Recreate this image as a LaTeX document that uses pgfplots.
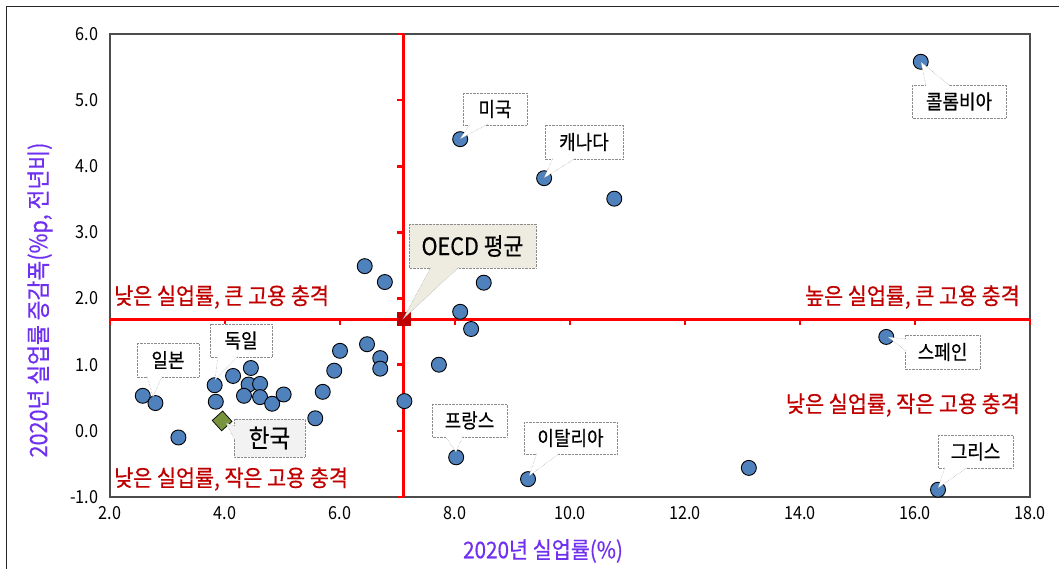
\documentclass[border=0pt]{standalone}
\usepackage{fontspec}
\usepackage{pgfplots}
\pgfplotsset{compat=1.18}
\setmainfont{Noto Sans CJK KR}[FakeStretch=0.9]
\newfontfamily\kb{Noto Sans CJK KR}[FakeStretch=0.9, FakeBold=0.5]
\definecolor{ptblue}{HTML}{4F81BD}
\definecolor{krgreen}{HTML}{77933C}
\definecolor{oecdred}{HTML}{C00000}
\definecolor{qred}{HTML}{C00000}
\definecolor{lblviolet}{HTML}{7030F0}
\definecolor{beige}{HTML}{EEECE1}
\definecolor{lgray}{HTML}{F2F2F2}
\newcommand{\calloutbox}[7]{%
  \draw[densely dotted, black!45, fill=#5] (#1,#2) rectangle (#3,#4);
  \node[font=\kb\fontsize{#6}{#6}\selectfont, inner sep=0pt] at ({(#1+#3)/2},{(#2+#4)/2}) {#7};}
\newcommand{\tail}[7]{%
  \fill[#7] (#1,#2) -- (#5,#6) -- (#3,#4) -- cycle;
  \draw[densely dotted, black!45] (#1,#2) -- (#5,#6) -- (#3,#4);}
\pgfplotstableread{
x y
2.57 0.53
2.79 0.42
3.19 -0.10
3.82 0.69
3.84 0.44
4.14 0.83
4.45 0.95
4.41 0.70
4.61 0.71
4.33 0.53
4.61 0.51
4.82 0.41
5.02 0.55
5.57 0.19
5.70 0.59
5.90 0.91
6.00 1.21
6.47 1.31
6.70 1.10
6.70 0.94
7.12 0.45
7.72 1.00
8.09 1.80
8.28 1.54
8.50 2.24
6.43 2.49
6.78 2.25
8.09 4.41
9.55 3.82
10.77 3.51
16.10 5.58
15.50 1.42
8.02 -0.40
9.27 -0.73
13.11 -0.56
16.40 -0.89
}\countries
\begin{document}
\begin{tikzpicture}[x=1pt,y=1pt]
\useasboundingbox (0,0) rectangle (1059,569);
\draw[black!85, line width=1pt] (6,0) -- (6,562) -- (1059,562);
\begin{axis}[
  at={(110pt,72pt)}, anchor=south west, scale only axis,
  width=920pt, height=463pt,
  xmin=2, xmax=18, ymin=-1, ymax=6,
  xtick={2,4,...,18}, ytick={-1,0,...,6},
  major tick length=0pt,
  axis line style={black!70, line width=1.2pt},
  tick label style={font=\fontsize{18}{20}\selectfont, black},
  /pgf/number format/fixed,
  /pgf/number format/fixed zerofill,
  /pgf/number format/precision=1,
  /pgf/number format/assume math mode=true,
  yticklabel style={xshift=-8pt},
  xticklabel style={yshift=-6pt},
  clip=false,
]
\addplot[red, line width=3pt, forget plot] coordinates {(2,1.69) (18,1.69)};
\addplot[red, line width=3pt, forget plot] coordinates {(7.1,-1) (7.1,6)};
\pgfplotsinvokeforeach{2,4,6,8,10,12,14,16,18}{
  \draw[red, line width=2.5pt] (axis cs:#1,1.69) -- ++(0pt,-6pt);
}
\pgfplotsinvokeforeach{-1,0,1,2,3,4,5,6}{
  \draw[red, line width=2.5pt] (axis cs:7.1,#1) -- ++(-6pt,0pt);
}
\addplot[only marks, mark=*, mark size=7.5pt,
  mark options={fill=ptblue, draw=black, line width=0.9pt}] table {\countries};
\addplot[only marks, mark=square*, mark size=7pt,
  mark options={fill=krgreen, draw=black, line width=0.7pt, rotate=42}] coordinates {(3.95,0.15)};
\addplot[only marks, mark=square*, mark size=6.5pt,
  mark options={fill=oecdred, draw=oecdred}] coordinates {(7.10,1.69)};
\end{axis}
\begin{scope}[shift={(0,569)}, yscale=-1]
  % quadrant texts
  \node[anchor=west, text=qred, font=\kb\fontsize{23}{23}\selectfont, inner sep=0pt] at (114,297) {낮은 실업률, 큰 고용 충격};
  \node[anchor=east, text=qred, font=\kb\fontsize{23}{23}\selectfont, inner sep=0pt] at (1020,297) {높은 실업률, 큰 고용 충격};
  \node[anchor=east, text=qred, font=\kb\fontsize{23}{23}\selectfont, inner sep=0pt] at (1020,405) {낮은 실업률, 작은 고용 충격};
  \node[anchor=west, text=qred, font=\kb\fontsize{23}{23}\selectfont, inner sep=0pt] at (114,479) {낮은 실업률, 작은 고용 충격};
  % axis titles
  \node[text=lblviolet, font=\kb\fontsize{23}{23}\selectfont, inner sep=0pt] at (543,551) {2020년 실업률(\%)};
  \node[text=lblviolet, font=\kb\fontsize{24}{24}\selectfont, inner sep=0pt, rotate=90] at (40,300) {2020년 실업률 증감폭(\%p, 전년비)};
  % callouts
  \calloutbox{463}{93}{527}{125}{white}{20}{미국}
  \tail{470}{124}{488}{124}{460}{139}{white}
  \calloutbox{545}{125}{623}{159}{white}{20}{캐나다}
  \tail{553}{158}{576}{158}{544}{178}{white}
  \calloutbox{912}{85}{1006}{118}{white}{20}{콜롬비아}
  \tail{926}{86}{950}{86}{921}{62}{white}
  \calloutbox{409}{224}{536}{268}{beige}{24}{OECD 평균}
  \tail{431}{267}{459}{267}{403}{319}{beige}
  \calloutbox{905}{335}{980}{369}{white}{20}{스페인}
  \tail{906}{339}{906}{351}{888}{337}{white}
  \calloutbox{938}{435}{1013}{468}{white}{20}{그리스}
  \tail{945}{467}{968}{467}{938}{488}{white}
  \calloutbox{432}{404}{507}{437}{white}{20}{프랑스}
  \tail{445}{436}{463}{436}{456}{452}{white}
  \calloutbox{524}{422}{617}{454}{white}{20}{이탈리아}
  \tail{537}{453}{560}{453}{529}{476}{white}
  \calloutbox{137}{343}{199}{377}{white}{20}{일본}
  \tail{147}{376}{162}{376}{153}{397}{white}
  \calloutbox{210}{324}{272}{357}{white}{20}{독일}
  \tail{218}{356}{238}{356}{215}{380}{white}
  \calloutbox{234}{419}{305}{457}{lgray}{25}{한국}
  \tail{235}{426}{235}{440}{226}{423}{lgray}
\end{scope}
\end{tikzpicture}
\end{document}
